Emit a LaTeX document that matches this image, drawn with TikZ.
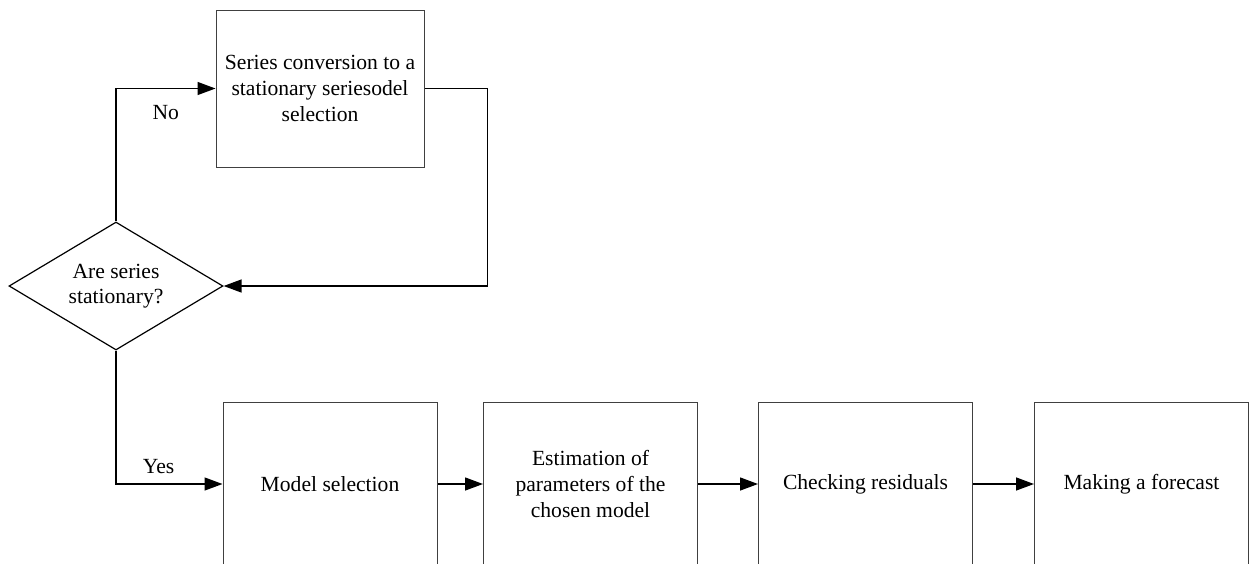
\documentclass[tikz,border=0pt]{standalone}
\usepackage{fontspec}
\setmainfont{Liberation Serif}
\usetikzlibrary{arrows.meta, positioning, shapes.geometric}

\begin{document}
\begin{tikzpicture}[
  x=0.5pt, y=-0.5pt,
  box/.style={draw=black!75, line width=0.5pt, align=center,
              minimum width=107pt, minimum height=82pt, inner sep=2pt,
              font=\fontsize{10.8}{12.8}\selectfont},
  decide/.style={draw=black, line width=0.6pt, diamond, aspect=1.67,
                 minimum width=107pt, minimum height=64pt, inner sep=0pt,
                 align=center, font=\fontsize{10.8}{12.8}\selectfont},
  lbl/.style={font=\fontsize{10.8}{12.8}\selectfont},
  arr/.style={-{Triangle[length=9pt, width=6.5pt]}, line width=0.7pt}
]
  \clip (0,0) rectangle (1254,563);
  \node[box, minimum width=104pt, minimum height=78.5pt] (conv) at (320,88.5)
    {Series conversion to a\\stationary seriesodel\\selection};
  \node[decide] (stat) at (116,286) {Are series\\stationary?};
  \node[box] (sel)  at (330,484)  {Model selection};
  \node[box] (est)  at (590.5,484) {Estimation of\\parameters of the\\chosen model};
  \node[box] (chk)  at (865.5,484) {Checking residuals};
  \node[box] (fcst) at (1141.5,484) {Making a forecast};

  \draw[arr] (stat.north) |- node[lbl, pos=0.75, below=4.5pt] {No} (conv.west);
  \draw[arr] (conv.east) -- ++(63,0) |- (stat.east);
  \draw[arr] (stat.south) |- node[lbl, pos=0.7, above=1.5pt] {Yes} (sel.west);
  \draw[arr] (sel)  -- (est);
  \draw[arr] (est)  -- (chk);
  \draw[arr] (chk)  -- (fcst);
\end{tikzpicture}
\end{document}
